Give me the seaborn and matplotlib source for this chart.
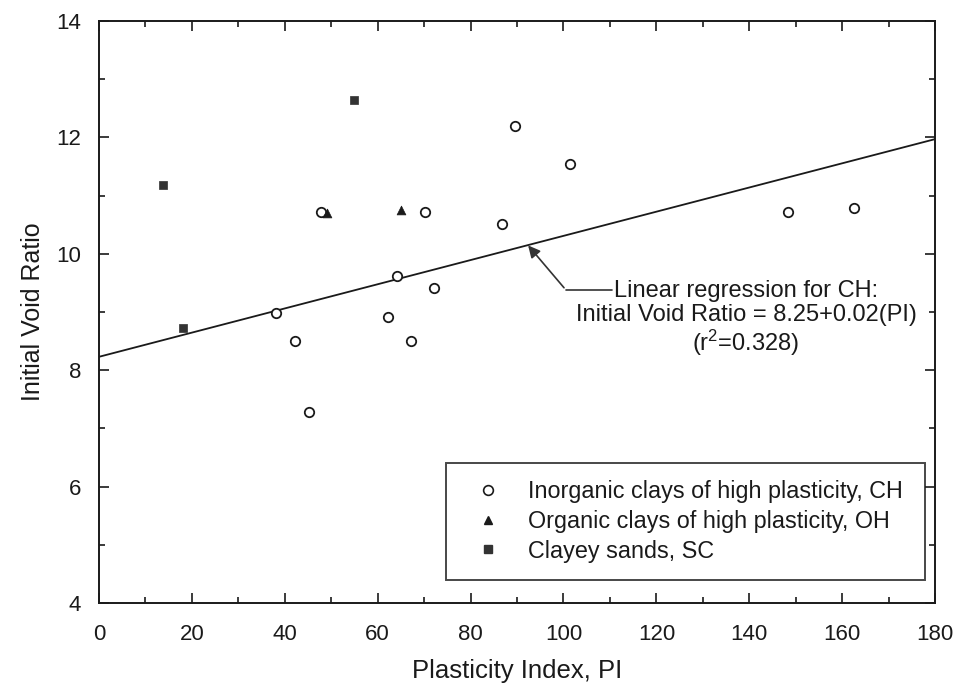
import matplotlib
matplotlib.use("Agg")
import matplotlib.pyplot as plt
import seaborn as sns
import pandas as pd
from matplotlib.ticker import MultipleLocator
from matplotlib.lines import Line2D

# Data
ch_pi = [47.8, 70.1, 89.6, 86.8, 64.2, 72.1, 38.1, 62.2, 42.1, 67.2, 45.3, 101.5, 148.4, 162.6]
ch_e = [10.71, 10.71, 12.19, 10.51, 9.61, 9.41, 8.99, 8.91, 8.50, 8.50, 7.28, 11.54, 10.71, 10.78]
oh_pi = [49.1, 65.0]
oh_e = [10.70, 10.75]
sc_pi = [13.8, 54.8, 18.0]
sc_e = [11.18, 12.64, 8.73]
reg_x = [0, 180]
reg_y = [8.23, 11.97]

labels = ["Inorganic clays of high plasticity, CH",
          "Organic clays of high plasticity, OH",
          "Clayey sands, SC"]

sns.set_theme(style="ticks")
plt.rcParams['font.family'] = ['Liberation Sans', 'DejaVu Sans']
ink = "#1a1a1a"

fig = plt.figure(figsize=(9.63, 6.92), dpi=100)
ax = fig.add_axes([0.1028, 0.1286, 0.8682, 0.8411])

df_ch = pd.DataFrame({"PI": ch_pi, "e": ch_e})
df_oh = pd.DataFrame({"PI": oh_pi, "e": oh_e})
df_sc = pd.DataFrame({"PI": sc_pi, "e": sc_e})

sns.lineplot(x=reg_x, y=reg_y, ax=ax, color=ink, lw=1.3, zorder=2)
sns.scatterplot(data=df_ch, x="PI", y="e", ax=ax, marker="o", s=46,
                facecolor="white", edgecolor=ink, linewidth=1.3, zorder=3)
sns.scatterplot(data=df_oh, x="PI", y="e", ax=ax, marker="^", s=40,
                color=ink, edgecolor=ink, linewidth=0.5, zorder=3)
sns.scatterplot(data=df_sc, x="PI", y="e", ax=ax, marker="s", s=36,
                color="#333333", edgecolor="#333333", linewidth=0.5, zorder=3)

ax.set_xlim(0, 180)
ax.set_ylim(4, 14)
ax.xaxis.set_major_locator(MultipleLocator(20))
ax.xaxis.set_minor_locator(MultipleLocator(10))
ax.yaxis.set_major_locator(MultipleLocator(2))
ax.yaxis.set_minor_locator(MultipleLocator(1))
ax.tick_params(which="both", direction="in", top=True, right=True, colors=ink,
               labelsize=16, width=1.2)
ax.tick_params(which="major", length=7)
ax.tick_params(axis="x", which="major", pad=15)
ax.tick_params(axis="y", which="major", pad=13)
ax.tick_params(which="minor", length=4)
for s in ax.spines.values():
    s.set_linewidth(1.4)
    s.set_color(ink)

ax.set_xlabel("Plasticity Index, PI", fontsize=18.5, color=ink, labelpad=10)
ax.set_ylabel("Initial Void Ratio", fontsize=18, color=ink, labelpad=8)

# annotation
ax.annotate("", xy=(92.0, 10.18), xytext=(100.5, 9.38),
            arrowprops=dict(arrowstyle="-|>", color="#333333", lw=1.2,
                            mutation_scale=18), zorder=4)
ax.plot([100.5, 110.5], [9.38, 9.38], color="#333333", lw=1.2)
ax.text(139.3, 8.88, "Linear regression for CH:\nInitial Void Ratio = 8.25+0.02(PI)\n($\\mathregular{r^2}$=0.328)",
        ha="center", va="center", fontsize=17, color=ink, linespacing=1.1)

handles = [
    Line2D([], [], marker="o", ls="", markerfacecolor="white", markeredgecolor=ink,
           markeredgewidth=1.2, markersize=7),
    Line2D([], [], marker="^", ls="", color=ink, markersize=6),
    Line2D([], [], marker="s", ls="", color="#333333", markersize=5.5),
]
leg = ax.legend(handles, labels, loc="lower left",
                bbox_to_anchor=(0.415, 0.0395, 0.573, 0.198), mode="expand",
                fontsize=16.8, frameon=True, fancybox=False, borderpad=0.75,
                labelspacing=0.28, handlelength=2.1, handletextpad=0.65,
                borderaxespad=0)
leg.get_frame().set_edgecolor(ink)
leg.get_frame().set_linewidth(1.4)
for t in leg.get_texts():
    t.set_color(ink)

fig.savefig("out.png", dpi=100)
